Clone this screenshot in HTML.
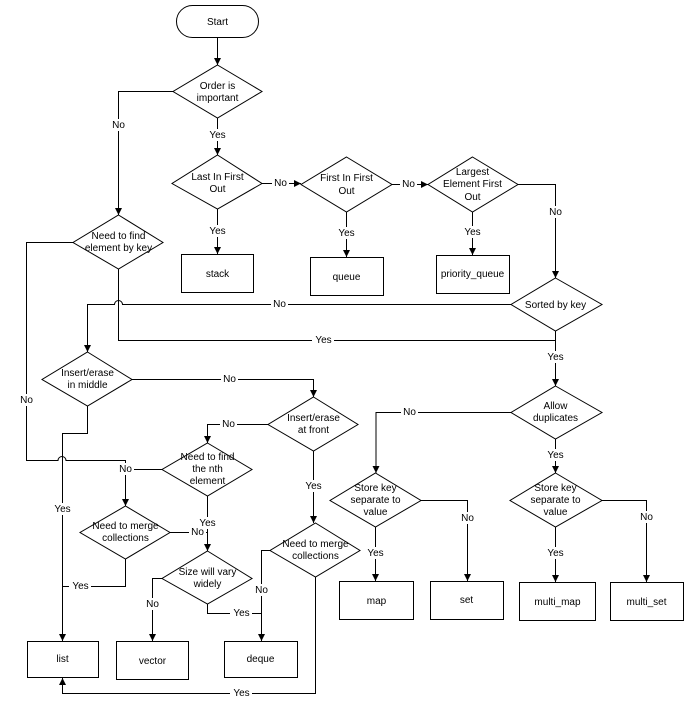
<!DOCTYPE html>
<html><head><meta charset="utf-8"><style>
html,body{margin:0;padding:0;background:#fff;}
svg{display:block;}
text{font-family:"Liberation Sans",sans-serif;font-size:10px;fill:#000;text-anchor:middle;}
</style></head><body>
<svg width="684" height="707" viewBox="0 0 684 707" xmlns="http://www.w3.org/2000/svg">
<defs>
<marker id="a" markerWidth="8" markerHeight="8" refX="7" refY="4" orient="auto" markerUnits="userSpaceOnUse">
<path d="M0,0.5 L7,4 L0,7.5 Z" fill="#000"/></marker>
</defs>
<g fill="none" stroke="#000" stroke-width="1">
<!-- nodes -->
<rect x="176.5" y="5.5" width="82" height="32" rx="16" fill="#fff"/>
<polygon points="217.5,65 262,91.5 217.5,118 173,91.5" fill="#fff"/>
<polygon points="217.5,155 262,183.5 217.5,209 172,183.5" fill="#fff"/>
<polygon points="346.5,157 392,184.5 346.5,212 301,184.5" fill="#fff"/>
<polygon points="472.5,157 518,184.5 472.5,212 428,184.5" fill="#fff"/>
<polygon points="118.5,215 163,242.5 118.5,269 73,242.5" fill="#fff"/>
<polygon points="555.5,278 602,304.5 555.5,331 511,304.5" fill="#fff"/>
<polygon points="555.5,386 602,412.5 555.5,439 511,412.5" fill="#fff"/>
<polygon points="87.5,352 132,379.5 87.5,406 42,379.5" fill="#fff"/>
<polygon points="313.5,397 358,424.5 313.5,451 268,424.5" fill="#fff"/>
<polygon points="207.5,443 252,469.5 207.5,496 162,469.5" fill="#fff"/>
<polygon points="125.5,506 170,532.5 125.5,559 80,532.5" fill="#fff"/>
<polygon points="207.5,551 252,578.5 207.5,604 162,578.5" fill="#fff"/>
<polygon points="315.5,523 360,550.5 315.5,577 270,550.5" fill="#fff"/>
<polygon points="375.5,473 421,500.5 375.5,527 330,500.5" fill="#fff"/>
<polygon points="555.5,473 602,500.5 555.5,527 510,500.5" fill="#fff"/>
<rect x="181.5" y="254.5" width="72" height="38"/>
<rect x="310.5" y="257.5" width="73" height="38"/>
<rect x="436.5" y="255.5" width="73" height="38"/>
<rect x="339.5" y="581.5" width="74" height="38"/>
<rect x="430.5" y="581.5" width="73" height="38"/>
<rect x="519.5" y="582.5" width="76" height="38"/>
<rect x="610.5" y="582.5" width="73" height="38"/>
<rect x="27.5" y="641.5" width="71" height="36"/>
<rect x="116.5" y="641.5" width="72" height="38"/>
<rect x="224.5" y="641.5" width="73" height="36"/>
<!-- connectors -->
<path d="M217.5,37 V65" marker-end="url(#a)"/>
<path d="M217.5,118 V155" marker-end="url(#a)"/>
<path d="M217.5,209 V254" marker-end="url(#a)"/>
<path d="M262,183.5 H301" marker-end="url(#a)"/>
<path d="M346.5,212 V257" marker-end="url(#a)"/>
<path d="M392,184.5 H428" marker-end="url(#a)"/>
<path d="M472.5,212 V255" marker-end="url(#a)"/>
<path d="M518,184.5 H555.5 V278" marker-end="url(#a)"/>
<path d="M173,91.5 H118.5 V215" marker-end="url(#a)"/>
<path d="M73,242.5 H26.5 V460.5 H58 A4,4 0 0 1 66,460.5 H125.5 V506" marker-end="url(#a)"/>
<path d="M118.5,269 V340.5 H555.5"/>
<path d="M511,304.5 H122.5 A4,4 0 0 0 114.5,304.5 H87.5 V352" marker-end="url(#a)"/>
<path d="M555.5,331 V386" marker-end="url(#a)"/>
<path d="M511,412.5 H376 V473" marker-end="url(#a)"/>
<path d="M555.5,439 V473" marker-end="url(#a)"/>
<path d="M375.5,527 V581" marker-end="url(#a)"/>
<path d="M421,500.5 H467.5 V581" marker-end="url(#a)"/>
<path d="M555.5,527 V582" marker-end="url(#a)"/>
<path d="M602,500.5 H646.5 V582" marker-end="url(#a)"/>
<path d="M132,379.5 H313.5 V397" marker-end="url(#a)"/>
<path d="M87.5,406 V433.5 H62.5 V641" marker-end="url(#a)"/>
<path d="M268,424.5 H207.5 V443" marker-end="url(#a)"/>
<path d="M162,469.5 H125.5"/>
<path d="M170,532.5 H207.5"/>
<path d="M207.5,496 V551" marker-end="url(#a)"/>
<path d="M125.5,559 V586.5 H62.5"/>
<path d="M162,578.5 H152.5 V641" marker-end="url(#a)"/>
<path d="M207.5,604 V613.5 H261.5"/>
<path d="M270,550.5 H261.5 V641" marker-end="url(#a)"/>
<path d="M313.5,451 V523" marker-end="url(#a)"/>
<path d="M315.5,577 V693.5 H62.5 V678" marker-end="url(#a)"/>
</g>
<!-- label backgrounds -->
<g fill="#fff">
<rect x="110" y="119" width="17" height="12"/>
<rect x="206" y="129" width="22" height="12"/>
<rect x="206" y="225" width="22" height="12"/>
<rect x="272" y="177" width="17" height="12"/>
<rect x="335" y="227" width="22" height="12"/>
<rect x="400" y="178" width="17" height="12"/>
<rect x="461" y="226" width="22" height="12"/>
<rect x="547" y="206" width="17" height="12"/>
<rect x="271" y="298" width="17" height="12"/>
<rect x="312" y="334" width="22" height="12"/>
<rect x="544" y="351" width="22" height="12"/>
<rect x="401" y="406" width="17" height="12"/>
<rect x="544" y="449" width="22" height="12"/>
<rect x="364" y="547" width="22" height="12"/>
<rect x="459" y="512" width="17" height="12"/>
<rect x="544" y="547" width="22" height="12"/>
<rect x="638" y="511" width="17" height="12"/>
<rect x="18" y="394" width="17" height="12"/>
<rect x="221" y="373" width="17" height="12"/>
<rect x="220" y="418" width="17" height="12"/>
<rect x="117" y="463" width="17" height="12"/>
<rect x="189" y="526" width="17" height="12"/>
<rect x="196" y="517" width="22" height="12"/>
<rect x="51" y="503" width="22" height="12"/>
<rect x="69" y="580" width="22" height="12"/>
<rect x="144" y="598" width="17" height="12"/>
<rect x="230" y="607" width="22" height="12"/>
<rect x="253" y="584" width="17" height="12"/>
<rect x="302" y="480" width="22" height="12"/>
<rect x="230" y="687" width="22" height="12"/>
</g>
<!-- text -->
<text x="217.5" y="25">Start</text>
<text x="217.5" y="89">Order is</text><text x="217.5" y="101">important</text>
<text x="217.5" y="180">Last In First</text><text x="217.5" y="192">Out</text>
<text x="346.5" y="181">First In First</text><text x="346.5" y="194">Out</text>
<text x="472.5" y="175">Largest</text><text x="472.5" y="187">Element First</text><text x="472.5" y="200">Out</text>
<text x="118.5" y="239">Need to find</text><text x="118.5" y="251">element by key</text>
<text x="555.5" y="308">Sorted by key</text>
<text x="555.5" y="409">Allow</text><text x="555.5" y="421">duplicates</text>
<text x="87.5" y="376">Insert/erase</text><text x="87.5" y="388">in middle</text>
<text x="313.5" y="421">Insert/erase</text><text x="313.5" y="433">at front</text>
<text x="207.5" y="460">Need to find</text><text x="207.5" y="472">the nth</text><text x="207.5" y="484">element</text>
<text x="125.5" y="529">Need to merge</text><text x="125.5" y="541">collections</text>
<text x="207.5" y="575">Size will vary</text><text x="207.5" y="587">widely</text>
<text x="315.5" y="547">Need to merge</text><text x="315.5" y="559">collections</text>
<text x="375.5" y="491">Store key</text><text x="375.5" y="503">separate to</text><text x="375.5" y="515">value</text>
<text x="555.5" y="491">Store key</text><text x="555.5" y="503">separate to</text><text x="555.5" y="515">value</text>
<text x="217.5" y="277">stack</text>
<text x="346.5" y="280">queue</text>
<text x="472.5" y="277">priority_queue</text>
<text x="376.5" y="604">map</text>
<text x="466.5" y="603">set</text>
<text x="557.5" y="605">multi_map</text>
<text x="646.5" y="605">multi_set</text>
<text x="62.5" y="662">list</text>
<text x="152.5" y="664">vector</text>
<text x="260.5" y="662">deque</text>
<!-- connector labels -->
<text x="118.5" y="128">No</text>
<text x="217.5" y="138">Yes</text>
<text x="217.5" y="234">Yes</text>
<text x="280.5" y="186">No</text>
<text x="346.5" y="236">Yes</text>
<text x="408.5" y="187">No</text>
<text x="472.5" y="235">Yes</text>
<text x="555.5" y="215">No</text>
<text x="279.5" y="307">No</text>
<text x="323.5" y="343">Yes</text>
<text x="555.5" y="360">Yes</text>
<text x="409.5" y="415">No</text>
<text x="555.5" y="458">Yes</text>
<text x="375.5" y="556">Yes</text>
<text x="467.5" y="521">No</text>
<text x="555.5" y="556">Yes</text>
<text x="646.5" y="520">No</text>
<text x="26.5" y="403">No</text>
<text x="229.5" y="382">No</text>
<text x="228.5" y="427">No</text>
<text x="125.5" y="472">No</text>
<text x="197.5" y="535">No</text>
<text x="207.5" y="526">Yes</text>
<text x="62.5" y="512">Yes</text>
<text x="80.5" y="589">Yes</text>
<text x="152.5" y="607">No</text>
<text x="241.5" y="616">Yes</text>
<text x="261.5" y="593">No</text>
<text x="313.5" y="489">Yes</text>
<text x="241.5" y="696">Yes</text>
</svg>
</body></html>
